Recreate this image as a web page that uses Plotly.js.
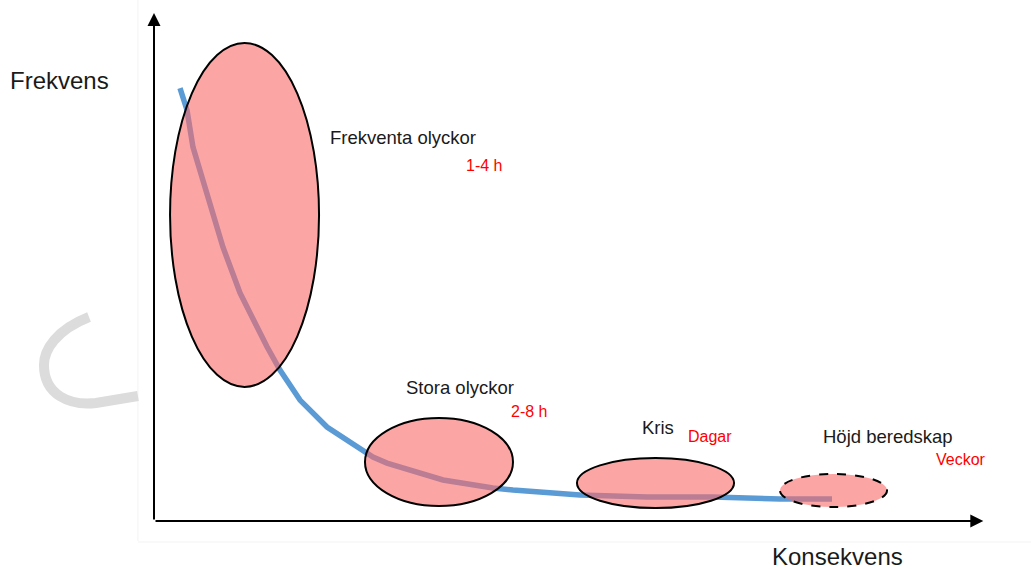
<!DOCTYPE html>
<html>
<head>
<meta charset="utf-8">
<script src="https://cdn.plot.ly/plotly-3.0.1.min.js"></script>
<style>html,body{margin:0;padding:0;background:#fff;}#chart{width:1031px;height:569px;}</style>
</head>
<body>
<div id="chart"></div>
<script>
// Curve: konsekvens (x) vs frekvens (y), 0-100 scales
const curveX = [3.13, 3.97, 4.69, 5.90, 6.74, 7.70, 8.30, 10.35, 11.91, 13.60, 15.16, 17.57, 20.82, 23.59, 26.35, 28.04, 34.78, 40.79, 43.20, 51.26, 59.33, 67.27, 71.36, 75.33, 81.59];
const curveY = [85.2, 80.9, 73.6, 67.1, 62.6, 57.9, 53.9, 44.9, 39.6, 34.3, 29.7, 23.8, 18.5, 15.4, 12.6, 11.4, 8.07, 6.50, 6.10, 5.12, 4.72, 4.72, 4.53, 4.33, 4.33];

// Ellipse regions
const regionNames = ["Frekventa olyckor", "Stora olyckor", "Kris", "Höjd beredskap"];
const regionX0 = [1.93, 25.39, 50.90, 75.33];
const regionX1 = [19.86, 43.20, 69.80, 88.21];
const regionY0 = [26.4, 2.95, 2.56, 2.76];
const regionY1 = [94.1, 20.28, 12.40, 9.25];
const regionDashed = [false, false, false, true];

// Labels
const labelX = [20.94, 30.08, 58.48, 80.26];
const labelY = [75.4, 26.2, 18.5, 16.54];
const durations = ["1-4 h", "2-8 h", "Dagar", "Veckor"];
const durationX = [37.30, 42.72, 64.02, 93.86];
const durationY = [69.9, 21.65, 16.73, 12.2];

const W = 1031, H = 569, ML = 154, MR = 46, MT = 13, MB = 48;
const PW = W - ML - MR, PH = H - MT - MB;
function px(x) { return ((x - ML) / PW).toFixed(4); }
function py(y) { return ((H - MB - y) / PH).toFixed(4); }

const FONT = "Liberation Sans, Arial, sans-serif";

const shapes = [];
for (let i = 0; i < regionNames.length; i++) {
  shapes.push({
    type: "circle", xref: "x", yref: "y",
    x0: regionX0[i], x1: regionX1[i], y0: regionY0[i], y1: regionY1[i],
    fillcolor: "rgba(250,105,105,0.6)",
    line: {color: "#000", width: 2, dash: regionDashed[i] ? "dash" : "solid"},
    layer: "above"
  });
}
// faint slide boundary
shapes.push({type: "line", xref: "paper", yref: "paper", x0: px(138), x1: px(138), y0: py(0), y1: py(541), line: {color: "#f3f3f3", width: 1}});
shapes.push({type: "line", xref: "paper", yref: "paper", x0: px(138), x1: px(1031), y0: py(542), y1: py(542), line: {color: "#f3f3f3", width: 1}});
// gray arc decoration
shapes.push({
  type: "path", xref: "paper", yref: "paper",
  path: "M " + px(89) + " " + py(317) +
        " C " + px(56) + " " + py(330) + " " + px(44) + " " + py(350) + " " + px(44) + " " + py(365) +
        " C " + px(44) + " " + py(395) + " " + px(70) + " " + py(406) + " " + px(96) + " " + py(403) +
        " L " + px(138) + " " + py(396),
  line: {color: "#dcdcdc", width: 10}
});

const annotations = [];
for (let i = 0; i < regionNames.length; i++) {
  annotations.push({x: labelX[i], y: labelY[i], xref: "x", yref: "y", text: regionNames[i], showarrow: false,
    xanchor: "left", yanchor: "middle", font: {family: FONT, size: 18.5, color: "#1a1a1a"}});
  annotations.push({x: durationX[i], y: durationY[i], xref: "x", yref: "y", text: durations[i], showarrow: false,
    xanchor: "left", yanchor: "middle", font: {family: FONT, size: 16, color: "#ff0000"}});
}
// axis titles
annotations.push({x: px(8), y: py(80), xref: "paper", yref: "paper", text: "Frekvens", showarrow: false,
  xanchor: "left", yanchor: "middle", font: {family: FONT, size: 24, color: "#1a1a1a"}});
annotations.push({x: px(770), y: py(556), xref: "paper", yref: "paper", text: "Konsekvens", showarrow: false,
  xanchor: "left", yanchor: "middle", font: {family: FONT, size: 24, color: "#1a1a1a"}});
// axis arrows
annotations.push({x: 0, y: 100, ax: 0, ay: 0, xref: "x", yref: "y", axref: "x", ayref: "y", text: "",
  showarrow: true, arrowhead: 2, arrowsize: 1.3, arrowwidth: 2, arrowcolor: "#000", standoff: 0});
annotations.push({x: 99.8, y: 0, ax: 0, ay: 0, xref: "x", yref: "y", axref: "x", ayref: "y", text: "",
  showarrow: true, arrowhead: 2, arrowsize: 1.3, arrowwidth: 2, arrowcolor: "#000", standoff: 0});

const data = [{
  x: curveX, y: curveY, type: "scatter", mode: "lines",
  line: {color: "#5b9bd5", width: 5.5}, hoverinfo: "skip"
}];

const layout = {
  width: W, height: H,
  margin: {l: ML, r: MR, t: MT, b: MB, pad: 0},
  paper_bgcolor: "#fff", plot_bgcolor: "#fff",
  showlegend: false,
  xaxis: {range: [0, 100], showgrid: false, zeroline: false, showline: false, showticklabels: false, ticks: "", fixedrange: true},
  yaxis: {range: [0, 100], showgrid: false, zeroline: false, showline: false, showticklabels: false, ticks: "", fixedrange: true},
  shapes: shapes,
  annotations: annotations
};

Plotly.newPlot("chart", data, layout, {displayModeBar: false, staticPlot: true});
</script>
</body>
</html>
